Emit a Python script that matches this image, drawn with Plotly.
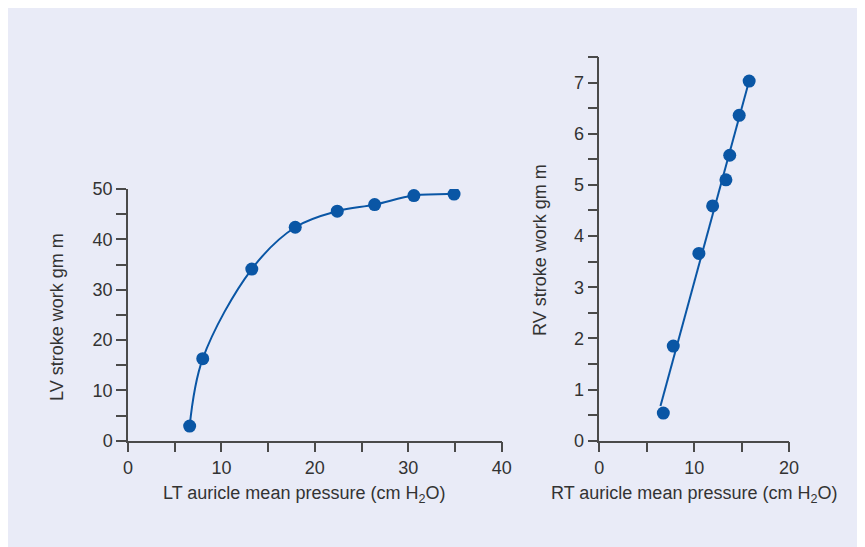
import numpy as np
import plotly.graph_objects as go

W, H = 865, 547
OFF = 8  # page body margin offset

# Left panel: LV stroke work vs LT auricle mean pressure
lt_pressure = [6.6, 8.0, 13.25, 17.9, 22.4, 26.4, 30.6, 34.9]
lv_work = [2.9, 16.3, 34.1, 42.4, 45.6, 46.9, 48.7, 49.0]

# Right panel: RV stroke work vs RT auricle mean pressure
rt_pressure = [6.75, 7.8, 10.5, 11.95, 13.35, 13.75, 14.75, 15.8]
rv_work = [0.54, 1.85, 3.66, 4.59, 5.10, 5.58, 6.36, 7.03]
fit_x_ends = [6.45, 15.85]

left_xticks = [0, 10, 20, 30, 40]
left_yticks = [0, 10, 20, 30, 40, 50]
right_xticks = [0, 10, 20]
right_yticks = [0, 1, 2, 3, 4, 5, 6, 7]

BLUE = "#0a56a5"
AX = "#4a4a4a"
TXT = "#333333"
FONT = "Liberation Sans"

slope, intercept = np.polyfit(rt_pressure, rv_work, 1)
fit_y = [slope * x + intercept for x in fit_x_ends]

fig = go.Figure()

fig.add_trace(go.Scatter(
    x=lt_pressure, y=lv_work, mode="lines", line=dict(color=BLUE, width=2, shape="spline", smoothing=1.0),
    xaxis="x", yaxis="y", hoverinfo="skip", showlegend=False))
fig.add_trace(go.Scatter(
    x=lt_pressure, y=lv_work, mode="markers", marker=dict(color=BLUE, size=13),
    xaxis="x", yaxis="y", showlegend=False))

fig.add_trace(go.Scatter(
    x=fit_x_ends, y=fit_y, mode="lines", line=dict(color=BLUE, width=2),
    xaxis="x2", yaxis="y2", hoverinfo="skip", showlegend=False))
fig.add_trace(go.Scatter(
    x=rt_pressure, y=rv_work, mode="markers", marker=dict(color=BLUE, size=13),
    xaxis="x2", yaxis="y2", showlegend=False))

def px_x(p):
    return max(p - OFF, 0) / W

def px_y(p):
    return 1 - max(p - OFF, 0) / H

common = dict(showgrid=False, zeroline=False, showline=True, linecolor=AX, linewidth=1.5,
              ticks="outside", ticklen=10, tickwidth=1.5, tickcolor=AX, automargin=False,
              tickfont=dict(family=FONT, size=18, color=TXT))
minor = dict(ticklen=10, tickwidth=1.5, tickcolor=AX, ticks="outside")

fig.update_layout(
    width=W, height=H,
    margin=dict(l=0, r=0, t=0, b=0, pad=0, autoexpand=False),
    paper_bgcolor="white", plot_bgcolor="rgba(0,0,0,0)",
    shapes=[dict(type="rect", xref="paper", yref="paper", x0=0, x1=1, y0=0, y1=1,
                 fillcolor="#e9ebf7", line=dict(width=0), layer="below")],
    xaxis=dict(domain=[px_x(128), px_x(501.7)], range=[0, 40], tickvals=left_xticks,
               minor=dict(dtick=5, **minor), anchor="y", **common),
    yaxis=dict(domain=[px_y(440.7), px_y(189)], range=[0, 50], tickvals=left_yticks,
               minor=dict(dtick=5, **minor), anchor="x", **common),
    xaxis2=dict(domain=[px_x(599.3), px_x(789)], range=[0, 20], tickvals=right_xticks,
                minor=dict(dtick=5, **minor), anchor="y2", **common),
    yaxis2=dict(domain=[px_y(440.7), px_y(57)], range=[0, 7.5], tickvals=right_yticks,
                minor=dict(dtick=0.5, **minor), anchor="x2", **common),
)

ann_font = dict(family=FONT, size=18, color=TXT)
fig.add_annotation(text="LT auricle mean pressure (cm H<sub>2</sub>O)", xref="paper", yref="paper",
                   x=px_x(304), y=px_y(494), showarrow=False, font=ann_font, xanchor="center", yanchor="middle")
fig.add_annotation(text="RT auricle mean pressure (cm H<sub>2</sub>O)", xref="paper", yref="paper",
                   x=px_x(694), y=px_y(494), showarrow=False, font=ann_font, xanchor="center", yanchor="middle")
fig.add_annotation(text="LV stroke work gm m", xref="paper", yref="paper", textangle=-90,
                   x=px_x(57), y=px_y(317), showarrow=False, font=ann_font, xanchor="center", yanchor="middle")
fig.add_annotation(text="RV stroke work gm m", xref="paper", yref="paper", textangle=-90,
                   x=px_x(540), y=px_y(250), showarrow=False, font=ann_font, xanchor="center", yanchor="middle")

fig.write_html("out.html")
